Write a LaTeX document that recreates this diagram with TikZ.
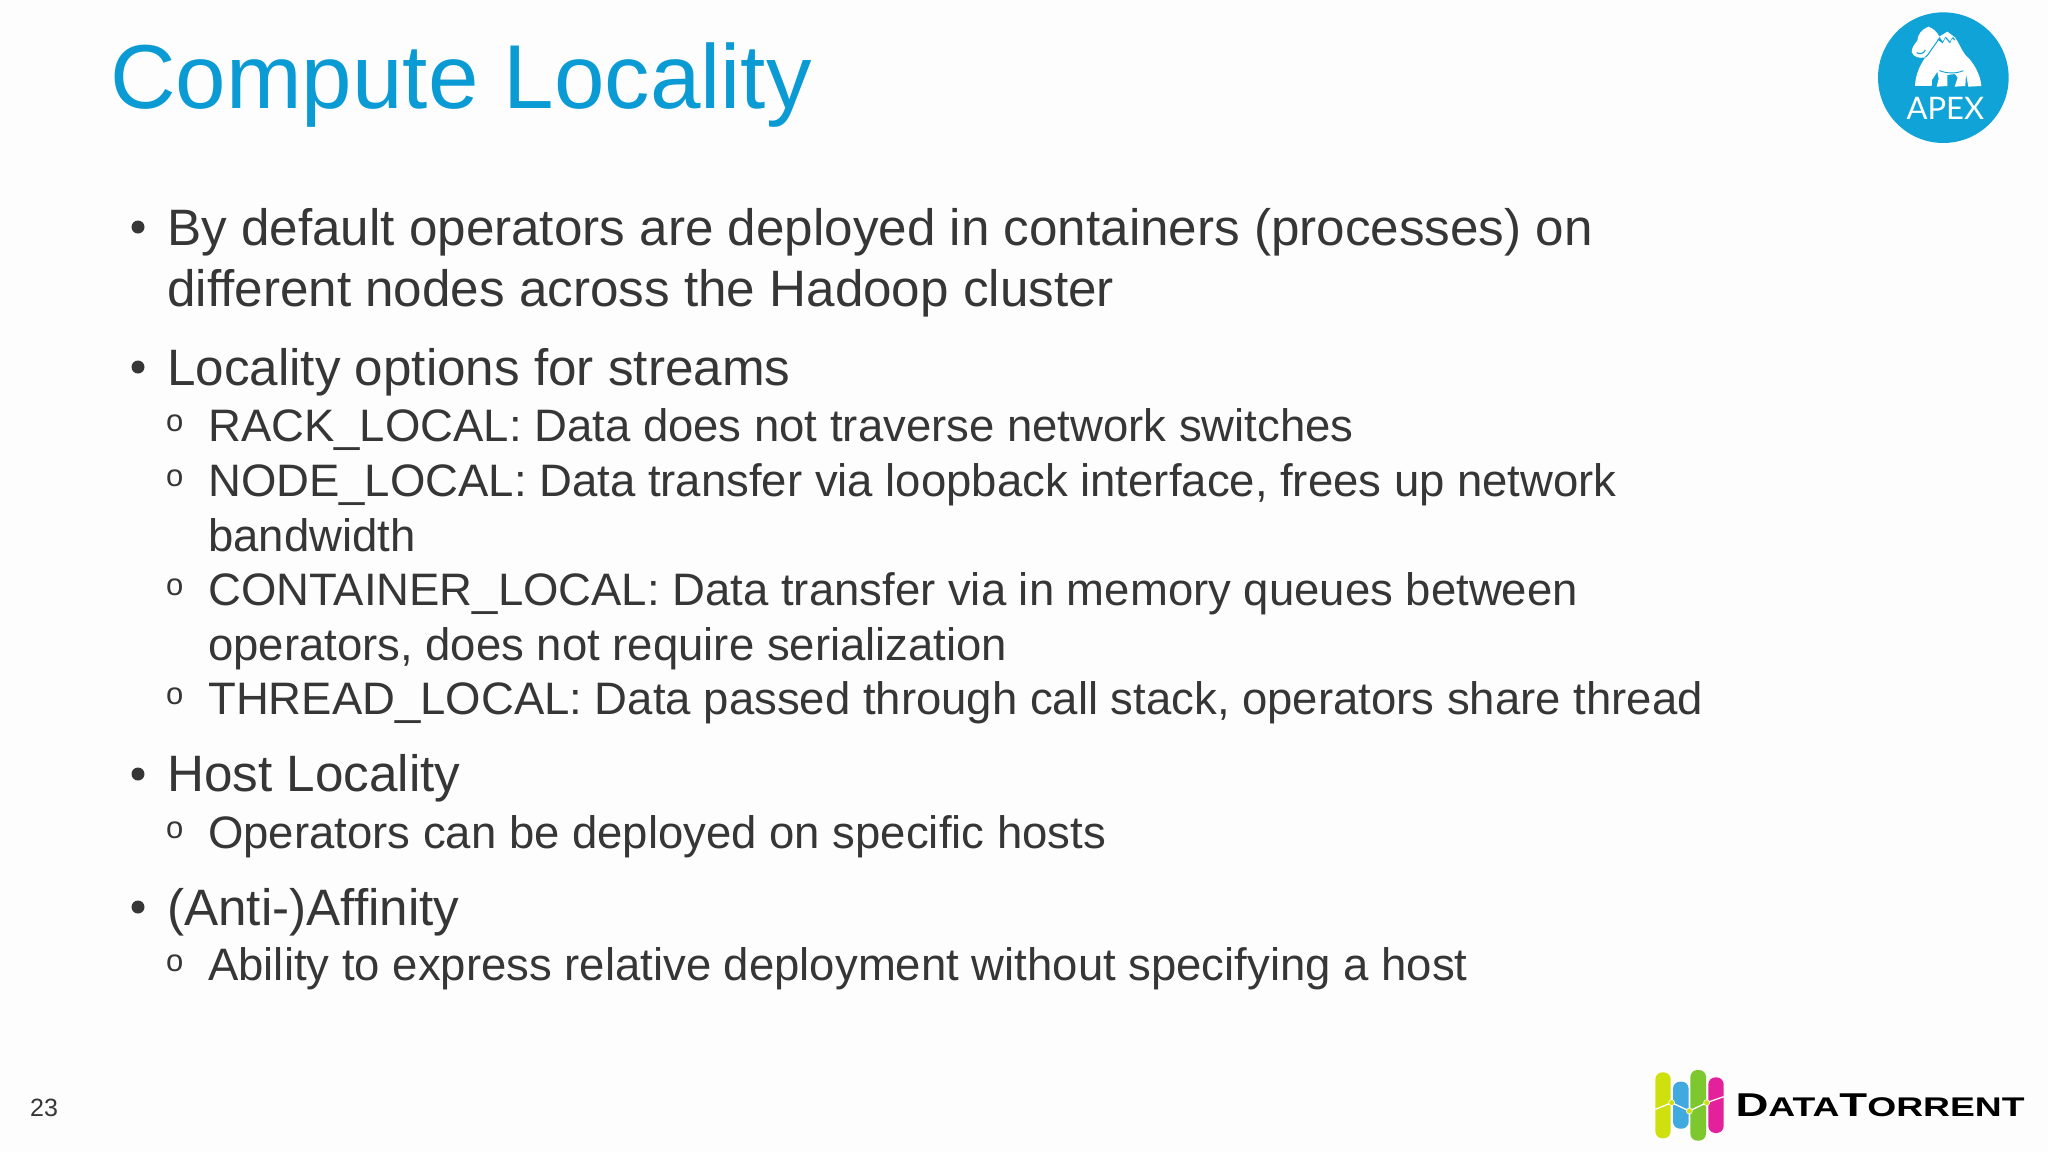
\documentclass[tikz,border=0pt]{standalone}
\usepackage{fontspec}
\usepackage{graphicx}
\setmainfont{Liberation Sans}
\newfontfamily\apexfont{Lato}
\definecolor{pagebg}{HTML}{FDFDFD}
\definecolor{titleblue}{HTML}{0A9BD4}
\definecolor{apexblue}{HTML}{0FA3D7}
\definecolor{bodygrey}{HTML}{363636}
\definecolor{lime}{HTML}{CFE00F}
\definecolor{skyb}{HTML}{3FA9E0}
\definecolor{leaf}{HTML}{7DC82F}
\definecolor{magen}{HTML}{E3219B}
\tikzset{
  titletext/.style={anchor=base west,inner sep=0pt,text=titleblue,font=\fontsize{90.8}{90.8}\selectfont},
  lvlone/.style={anchor=base west,inner sep=0pt,text=bodygrey,font=\fontsize{51.2}{51.2}\selectfont},
  lvltwo/.style={anchor=base west,inner sep=0pt,text=bodygrey,font=\fontsize{45.5}{45.5}\selectfont},
  bulone/.style={circle,fill=bodygrey,inner sep=0pt,minimum size=13pt},
  bultwo/.style={anchor=base west,inner sep=0pt,text=bodygrey,font=\fontsize{31}{31}\selectfont},
}
\begin{document}
\begin{tikzpicture}[x=1pt,y=-1pt]
\useasboundingbox (0,0) rectangle (2048,1152);
\fill[pagebg] (0,0) rectangle (2048,1152);
\node[titletext] (title) at (110,108.5) {Compute Locality};
% level-one items
\node[bulone] (b1) at (138,227) {};
\node[lvlone] (t1) at (167,245.5) {By default operators are deployed in containers (processes) on};
\node[lvlone] (t1b) at (167,306.5) {different nodes across the Hadoop cluster};
\node[bulone] (b2) at (138,367) {};
\node[lvlone] (t2) at (167,385.5) {Locality options for streams};
\node[bulone] (b3) at (138,774) {};
\node[lvlone] (t3) at (167,791.5) {Host Locality};
\node[bulone] (b4) at (138,907) {};
\node[lvlone] (t4) at (167,925) {(Anti-)Affinity};
% level-two items
\node[bultwo] (o1) at (166,431) {o};
\node[lvltwo] (s1) at (208,441.5) {RACK\_LOCAL: Data does not traverse network switches};
\node[bultwo] (o2) at (166,486) {o};
\node[lvltwo] (s2) at (208,496.4) {NODE\_LOCAL: Data transfer via loopback interface, frees up network};
\node[lvltwo] (s2b) at (208,551) {bandwidth};
\node[bultwo] (o3) at (166,595) {o};
\node[lvltwo] (s3) at (208,605.7) {CONTAINER\_LOCAL: Data transfer via in memory queues between};
\node[lvltwo] (s3b) at (208,660.7) {operators, does not require serialization};
\node[bultwo] (o4) at (166,704) {o};
\node[lvltwo] (s4) at (208,714.3) {THREAD\_LOCAL: Data passed through call stack, operators share thread};
\node[bultwo] (o5) at (166,838) {o};
\node[lvltwo] (s5) at (208,848) {Operators can be deployed on specific hosts};
\node[bultwo] (o6) at (166,971) {o};
\node[lvltwo] (s6) at (208,980.5) {Ability to express relative deployment without specifying a host};
% page number
\node[anchor=base west,inner sep=0pt,text=bodygrey,font=\fontsize{25}{25}\selectfont] (pg) at (30,1116) {23};
% APEX logo
\begin{scope}[shift={(1860,0)},x=0.3333pt,y=-0.3333pt]
\fill[apexblue] (250,233) circle (196);
\fill[white] (205,80) .. controls (218,84) and (232,96) .. (238,110) -- (262,95)
  -- (285,112) .. controls (298,130) and (304,150) .. (316,165)
  .. controls (340,185) and (362,225) .. (364,258) -- (325,260) -- (318,222) -- (316,258)
  -- (284,260) -- (293,233) -- (285,222) -- (262,225) -- (262,258) -- (230,260)
  -- (236,236) -- (232,215) -- (216,240) -- (215,258) -- (165,258)
  .. controls (166,225) and (180,195) .. (196,172)
  .. controls (180,176) and (160,172) .. (155,156)
  .. controls (156,140) and (165,132) .. (172,122) .. controls (172,105) and (185,88) .. (205,80) -- cycle;
\draw[apexblue,line width=1.1pt] (170,158) .. controls (180,164) and (192,160) .. (196,150);
\draw[apexblue,line width=1pt] (196,172) .. controls (205,165) and (212,150) .. (222,138) -- (240,112);
\fill[apexblue] (232,118) -- (248,130) -- (256,114) -- (270,130) -- (276,116) -- (286,122) -- (280,110) -- (262,100) -- (244,112) -- cycle;
\fill[white] (240,113) -- (262,98) -- (282,112) -- (276,113) -- (270,124) -- (257,109) -- (248,124) -- cycle;
\draw[apexblue,line width=0.9pt] (238,212) .. controls (262,221) and (290,221) .. (310,212);
\node[text=white,inner sep=0pt,font=\apexfont\fontsize{31}{31}\selectfont] (apex) at (256,325) {APEX};
\end{scope}
% DataTorrent logo
\begin{scope}[shift={(1640,1060)},x=0.3333pt,y=-0.3333pt]
\fill[lime,rounded corners=7pt] (46,37) rectangle (92,235);
\fill[skyb,rounded corners=7pt] (99,65) rectangle (146,206);
\fill[leaf,rounded corners=7pt] (151,30) rectangle (198,242);
\fill[magen,rounded corners=7pt] (205,52) rectangle (251,219);
\draw[white,line width=1.3pt] (46,148) -- (95,128) -- (148,153) -- (200,128) -- (251,110);
\foreach \p in {(95,128),(148,153),(200,128)}
  \fill[lime,draw=white,line width=0.6pt] \p circle (9);
\node[anchor=base west,inner sep=0pt,font=\bfseries\fontsize{33}{33}\selectfont,text=black] (dt) at (286,170)
  {\scalebox{1.38}[1]{D{\fontsize{27}{27}\selectfont ATA}T{\fontsize{27}{27}\selectfont ORRENT}}};
\end{scope}
\end{tikzpicture}
\end{document}
